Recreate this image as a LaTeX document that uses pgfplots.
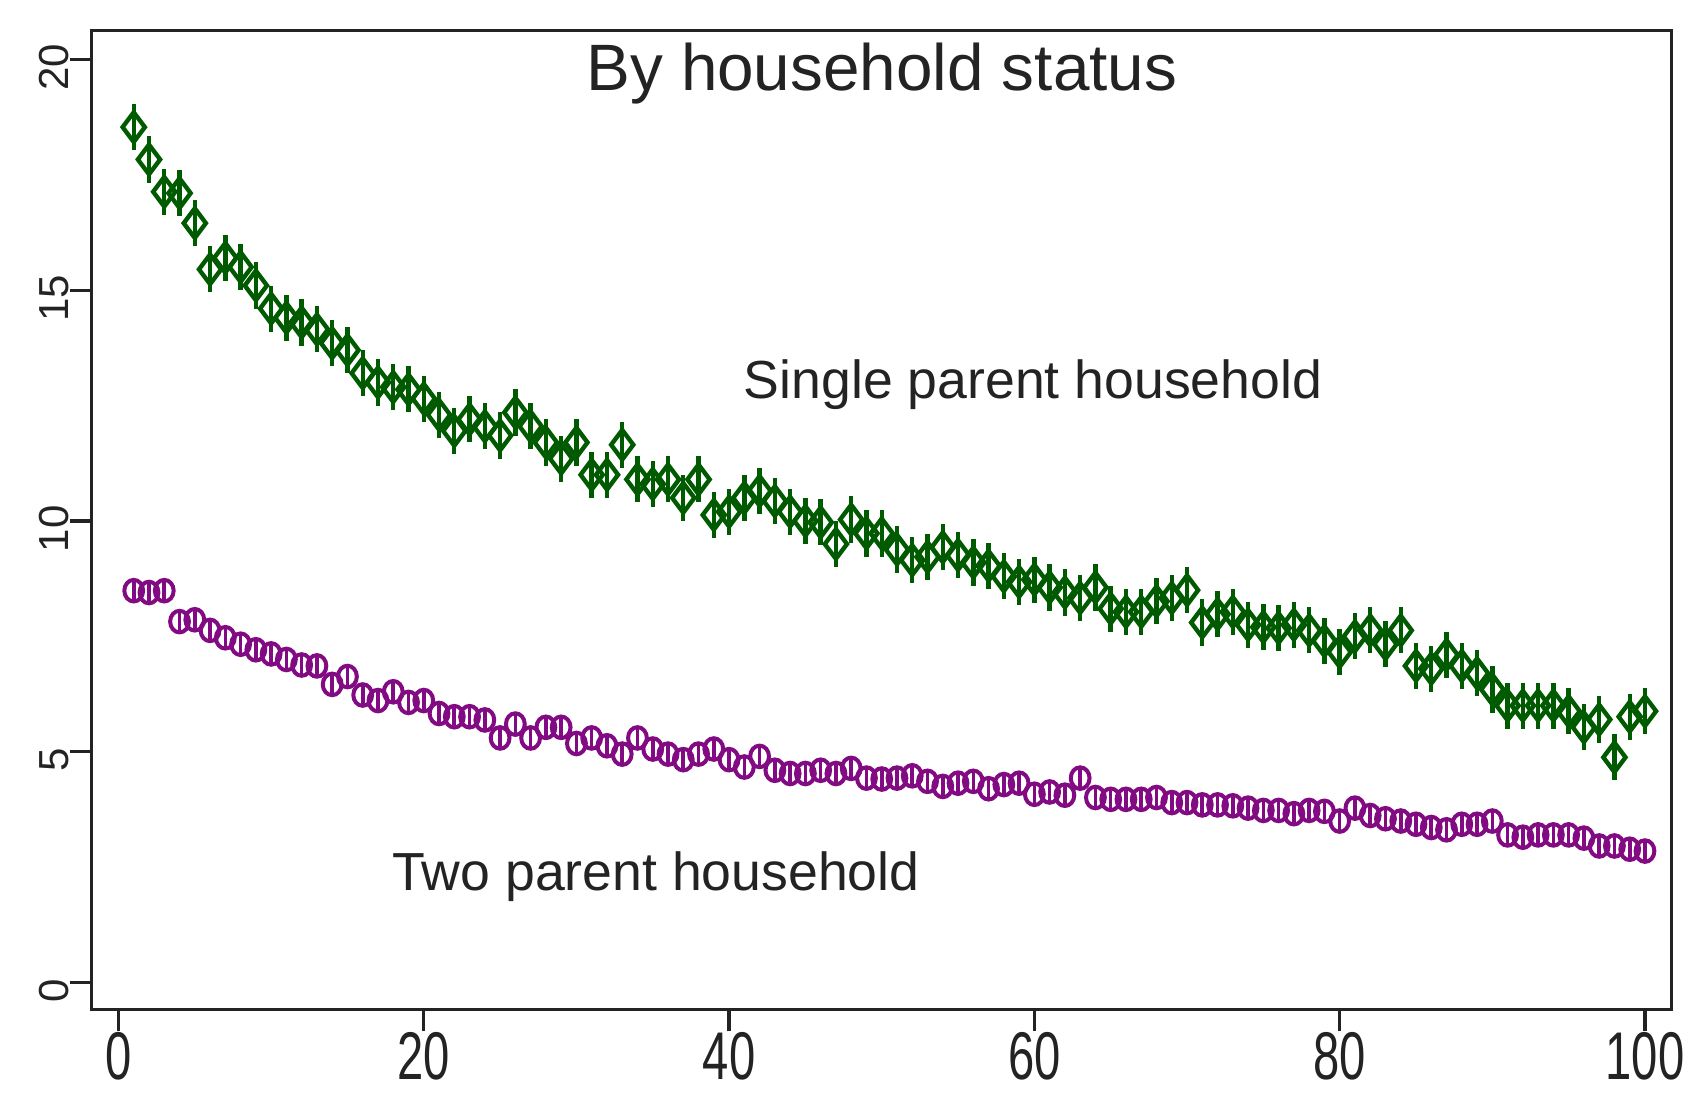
\documentclass[border=0pt]{standalone}
\usepackage{pgfplots}
\pgfplotsset{compat=1.18}
\usepackage{pgfplotstable}
\usepackage{fontspec}
\setmainfont{Liberation Sans}
\definecolor{sgreen}{RGB}{0,90,0}
\definecolor{spurple}{RGB}{130,10,130}
\definecolor{frm}{RGB}{35,35,35}
\pgfplotstableread{
x y
1 18.53
2 17.83
3 17.13
4 17.10
5 16.45
6 15.45
7 15.70
8 15.50
9 15.10
10 14.60
11 14.40
12 14.30
13 14.15
14 13.85
15 13.70
16 13.20
17 13.00
18 12.90
19 12.85
20 12.65
21 12.30
22 11.95
23 12.20
24 12.05
25 11.85
26 12.35
27 12.05
28 11.70
29 11.35
30 11.70
31 11.00
32 11.00
33 11.65
34 10.90
35 10.80
36 10.90
37 10.50
38 10.90
39 10.13
40 10.20
41 10.50
42 10.65
43 10.43
44 10.20
45 10.00
46 9.97
47 9.50
48 10.03
49 9.73
50 9.73
51 9.38
52 9.15
53 9.22
54 9.43
55 9.26
56 9.10
57 9.03
58 8.80
59 8.68
60 8.73
61 8.56
62 8.45
63 8.33
64 8.56
65 8.10
66 8.03
67 8.03
68 8.26
69 8.33
70 8.50
71 7.80
72 7.98
73 8.03
74 7.75
75 7.70
76 7.68
77 7.75
78 7.63
79 7.40
80 7.16
81 7.50
82 7.63
83 7.33
84 7.63
85 6.86
86 6.80
87 7.10
88 6.86
89 6.70
90 6.35
91 6.00
92 6.00
93 6.00
94 6.00
95 5.88
96 5.53
97 5.70
98 4.88
99 5.76
100 5.88
}\single
\pgfplotstableread{
x y
1 8.49
2 8.45
3 8.49
4 7.82
5 7.86
6 7.63
7 7.47
8 7.33
9 7.21
10 7.12
11 7.00
12 6.88
13 6.86
14 6.46
15 6.63
16 6.23
17 6.11
18 6.30
19 6.07
20 6.11
21 5.83
22 5.76
23 5.76
24 5.69
25 5.30
26 5.60
27 5.30
28 5.53
29 5.53
30 5.18
31 5.30
32 5.13
33 4.95
34 5.30
35 5.06
36 4.95
37 4.83
38 4.95
39 5.06
40 4.83
41 4.67
42 4.90
43 4.60
44 4.53
45 4.53
46 4.60
47 4.53
48 4.64
49 4.43
50 4.41
51 4.43
52 4.48
53 4.36
54 4.25
55 4.32
56 4.36
57 4.20
58 4.29
59 4.32
60 4.08
61 4.13
62 4.06
63 4.43
64 4.01
65 3.97
66 3.97
67 3.97
68 4.01
69 3.90
70 3.90
71 3.85
72 3.85
73 3.83
74 3.78
75 3.73
76 3.73
77 3.66
78 3.73
79 3.71
80 3.50
81 3.78
82 3.62
83 3.55
84 3.50
85 3.43
86 3.36
87 3.31
88 3.43
89 3.43
90 3.50
91 3.20
92 3.15
93 3.20
94 3.20
95 3.20
96 3.13
97 2.96
98 2.96
99 2.89
100 2.85
}\two
\begin{document}
\begin{tikzpicture}
\useasboundingbox (-22.9pt,-21.2pt) rectangle (399.35pt,252.35pt);
\begin{axis}[
  scale only axis, width=395.05pt, height=244.8pt,
  at={(0pt,0pt)}, anchor=south west,
  xmin=-1.76, xmax=101.76, ymin=-0.58, ymax=20.63,
  xtick={0,20,40,60,80,100}, ytick={0,5,10,15,20},
  tick align=outside, major tick length=5.5pt,
  axis line style={frm, line width=0.8pt},
  every tick/.style={frm, line width=0.8pt},
  xtick pos=bottom, ytick pos=left,
  /pgf/number format/assume math mode=true,
  xticklabel style={font=\fontsize{11.8}{11.8}\selectfont, yscale=1.43, anchor=north, inner sep=0pt, text=frm},
  yticklabel style={font=\fontsize{10.5}{10.5}\selectfont, rotate=90, anchor=south, inner sep=0pt, text=frm, xshift=-2pt},
  clip=false,
]
\addplot[only marks, mark=diamond, mark size=3.7pt, color=sgreen,
  mark options={line width=1.1pt, fill=none},
  error bars/.cd, y dir=both, y fixed=0.5, error mark=none,
  error bar style={line width=1.1pt, sgreen}] table[x=x,y=y]{\single};
\addplot[only marks, mark=o, mark size=2.35pt, color=spurple,
  mark options={line width=1.0pt, fill=none, yscale=1.15},
  error bars/.cd, y dir=both, y fixed=0.24, error mark=none,
  error bar style={line width=0.9pt, spurple}] table[x=x,y=y]{\two};
\node[anchor=base, font=\fontsize{16.4}{16.4}\selectfont, text=frm] at (axis cs:50,19.32) {By household status};
\node[anchor=base west, font=\fontsize{13.4}{13.4}\selectfont, text=frm] at (axis cs:40.05,12.65) {Single parent household};
\node[anchor=base west, font=\fontsize{13.4}{13.4}\selectfont, text=frm] at (axis cs:17.0,2.0) {Two parent household};
\end{axis}
\end{tikzpicture}
\end{document}
